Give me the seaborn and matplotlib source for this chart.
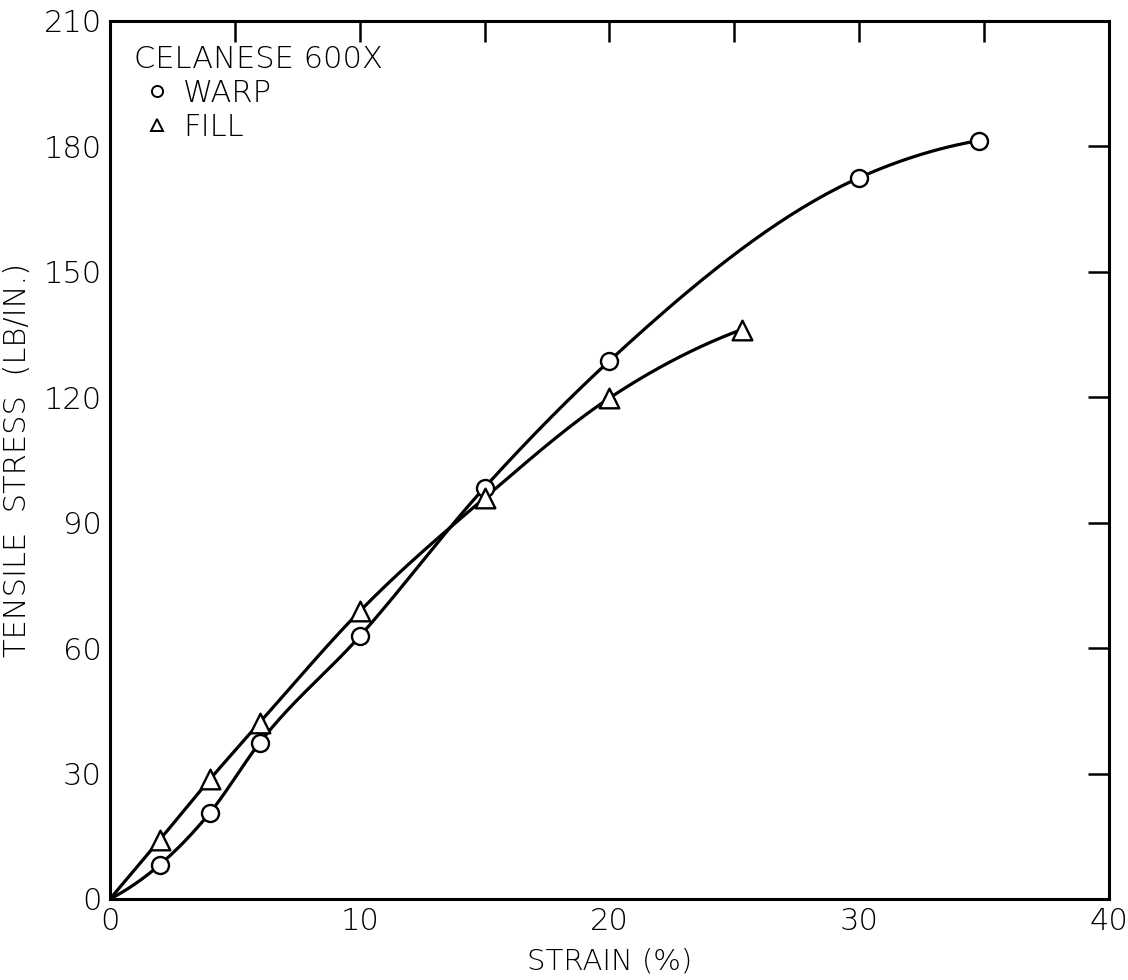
import numpy as np
import pandas as pd
import matplotlib
matplotlib.use("Agg")
import matplotlib.pyplot as plt
from matplotlib.lines import Line2D
from matplotlib.ticker import MultipleLocator
import seaborn as sns

# Measured tensile data for Celanese 600X fabric
warp_strain = [0, 2, 4, 6, 10, 15, 20, 30, 34.8]
warp_stress = [0, 8.2, 20.6, 37.4, 62.8, 98.4, 128.7, 172.5, 181.4]
fill_strain = [0, 2, 4, 6, 10, 15, 20, 25.3]
fill_stress = [0, 14.2, 28.6, 42.2, 68.8, 95.9, 119.8, 136.2]

x_ticks = [0, 10, 20, 30, 40]
y_ticks = [0, 30, 60, 90, 120, 150, 180, 210]


def smooth_curve(xs, ys, n=40):
    """Cubic Hermite path through the points, slopes from local parabolas."""
    xs = np.asarray(xs, float)
    ys = np.asarray(ys, float)
    h = np.diff(xs)
    d = np.diff(ys) / h
    m = np.empty_like(ys)
    m[1:-1] = (h[:-1] * d[1:] + h[1:] * d[:-1]) / (h[:-1] + h[1:])
    m[0] = 2 * d[0] - m[1]
    m[-1] = 2 * d[-1] - m[-2]
    px, py = [], []
    for i in range(len(xs) - 1):
        t = np.linspace(0, 1, n, endpoint=(i == len(xs) - 2))
        h00 = 2 * t**3 - 3 * t**2 + 1
        h10 = t**3 - 2 * t**2 + t
        h01 = -2 * t**3 + 3 * t**2
        h11 = t**3 - t**2
        px.append(xs[i] + t * h[i])
        py.append(h00 * ys[i] + h10 * h[i] * m[i] + h01 * ys[i + 1] + h11 * h[i] * m[i + 1])
    return np.concatenate(px), np.concatenate(py)


sns.set_theme(style="white")
plt.rcParams["font.family"] = ["DejaVu Sans"]
plt.rcParams["font.weight"] = "light"
plt.rcParams["axes.labelweight"] = "light"

fig = plt.figure(figsize=(11.28, 9.8), dpi=100)
ax = fig.add_axes([0.0975, 0.0827, 0.8855, 0.8959])

ink = "#000000"

for xs, ys in ((warp_strain, warp_stress), (fill_strain, fill_stress)):
    cx, cy = smooth_curve(xs, ys)
    sns.lineplot(x=cx, y=cy, ax=ax, color=ink, lw=2.3, sort=False, zorder=2)

warp_df = pd.DataFrame({"strain": warp_strain[1:], "stress": warp_stress[1:]})
fill_df = pd.DataFrame({"strain": fill_strain[1:], "stress": fill_stress[1:]})
sns.scatterplot(data=warp_df, x="strain", y="stress", ax=ax, marker="o", s=150,
                facecolor="white", edgecolor=ink, linewidth=1.7, zorder=3)
sns.scatterplot(data=fill_df, x="strain", y="stress", ax=ax, marker="^", s=200,
                facecolor="white", edgecolor=ink, linewidth=1.7, zorder=3)

ax.set_xlim(0, 40)
ax.set_ylim(0, 210)
ax.set_xticks(x_ticks)
ax.set_yticks(y_ticks)
ax.xaxis.set_minor_locator(MultipleLocator(5))
ax.tick_params(which="both", direction="in", length=15, width=1.8, color=ink,
               top=True, right=True, labelsize=22, labelcolor=ink, pad=6)
for s in ax.spines.values():
    s.set_color(ink)
    s.set_linewidth(2.2)

ax.set_xlabel("STRAIN (%)", fontsize=21, color=ink, labelpad=8)
ax.set_ylabel("TENSILE  STRESS  (LB/IN.)", fontsize=22, color=ink, labelpad=8)

handles = [
    Line2D([], [], marker="o", ls="none", markersize=8, markerfacecolor="white",
           markeredgecolor=ink, markeredgewidth=1.4, label="WARP"),
    Line2D([], [], marker="^", ls="none", markersize=9, markerfacecolor="white",
           markeredgecolor=ink, markeredgewidth=1.4, label="FILL"),
]
leg = ax.legend(handles=handles, title="CELANESE 600X", loc="upper left",
                frameon=False, fontsize=22, title_fontsize=22,
                handletextpad=0.1, handlelength=1.5, labelspacing=0.15,
                borderaxespad=0.5, borderpad=0.3)
leg._legend_box.align = "left"
leg.get_title().set_color(ink)
for t in leg.get_texts():
    t.set_color(ink)

fig.savefig("out.png", dpi=100, facecolor="white")
